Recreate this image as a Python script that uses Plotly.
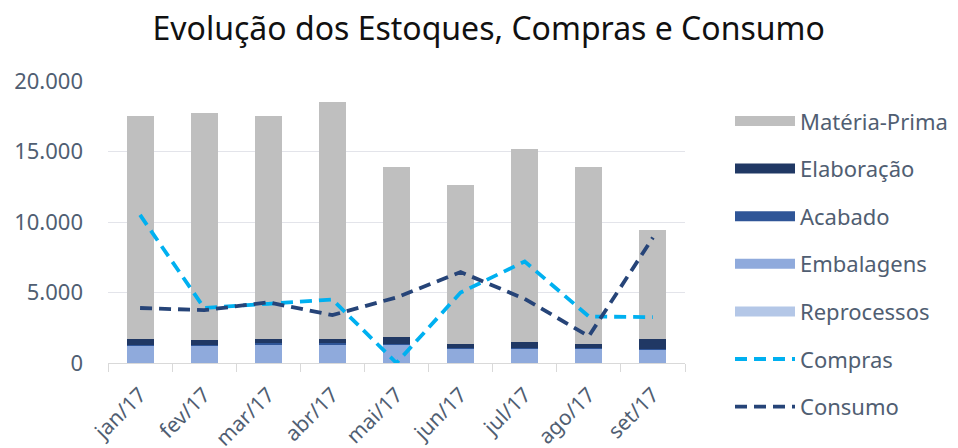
import plotly.graph_objects as go

meses = ["jan/17", "fev/17", "mar/17", "abr/17", "mai/17", "jun/17", "jul/17", "ago/17", "set/17"]

reprocessos = [30, 30, 30, 30, 30, 30, 30, 30, 30]
embalagens = [1200, 1220, 1300, 1300, 1270, 970, 970, 970, 910]
acabado = [60, 60, 60, 60, 60, 50, 50, 50, 60]
elaboracao = [430, 290, 320, 330, 480, 280, 470, 280, 700]
materia_prima = [15780, 16100, 15790, 16780, 12060, 11270, 13680, 12570, 7750]

compras = [10500, 3900, 4200, 4500, 0, 5000, 7200, 3300, 3250]
consumo = [3900, 3750, 4300, 3400, 4650, 6450, 4550, 1900, 8900]

font_family = "Noto Sans, Open Sans, DejaVu Sans, sans-serif"
text_color = "#505E72"
grid_color = "#E3E4EA"

fig = go.Figure()

bar_series = [
    ("Reprocessos", reprocessos, "#B4C7E7", 5),
    ("Embalagens", embalagens, "#8FAADC", 4),
    ("Acabado", acabado, "#2F5597", 3),
    ("Elaboração", elaboracao, "#203864", 2),
    ("Matéria-Prima", materia_prima, "#BFBFBF", 1),
]
for name, vals, color, rank in bar_series:
    fig.add_trace(go.Bar(
        x=meses, y=vals, name=name, marker=dict(color=color, line=dict(width=0)),
        showlegend=False, legendgroup=name,
    ))
    # legend entry drawn as a wide block, like the original chart's legend
    fig.add_trace(go.Scatter(
        x=[None], y=[None], name=name, mode="lines",
        line=dict(color=color, width=14),
        legendrank=rank, legendgroup=name, hoverinfo="skip",
    ))

fig.add_trace(go.Scatter(
    x=meses, y=compras, name="Compras", mode="lines",
    line=dict(color="#00B0F0", width=3.8, dash="12px,7px"),
    legendrank=6, legendgroup="Compras",
))
fig.add_trace(go.Scatter(
    x=meses, y=consumo, name="Consumo", mode="lines",
    line=dict(color="#264478", width=3.8, dash="12px,7px"),
    legendrank=7, legendgroup="Consumo",
))

fig.update_layout(
    width=950, height=440,
    barmode="stack", bargap=0.58,
    separators=",.",
    paper_bgcolor="white", plot_bgcolor="white",
    margin=dict(l=100, r=273, t=73, b=85, autoexpand=False),
    font=dict(family=font_family, color=text_color, size=22),
    title=dict(text="Evolução dos Estoques, Compras e Consumo",
               x=0.506, xanchor="center", y=0.952, yanchor="middle", yref="container",
               font=dict(size=32, color="#111111", family=font_family)),
    legend=dict(x=1.078, xanchor="left", y=0.932, yanchor="top", maxheight=440,
                traceorder="grouped", tracegroupgap=16, itemwidth=60,
                font=dict(size=22, color=text_color), bgcolor="rgba(0,0,0,0)"),
    xaxis=dict(showgrid=False, showline=True, linecolor="#D9D9D9", linewidth=1.3,
               ticks="outside", tickson="boundaries", ticklen=8, tickcolor="#D9D9D9",
               tickangle=-45, automargin=False, ticklabelstandoff=10,
               tickfont=dict(size=21, color=text_color)),
    yaxis=dict(range=[0, 20000], dtick=5000, tickformat=",d", showgrid=True,
               gridcolor=grid_color, gridwidth=1.3, zeroline=False, showline=False,
               ticks="", ticklabelstandoff=24, automargin=False,
               tickfont=dict(size=22, color=text_color)),
)

fig.write_html("out.html")
